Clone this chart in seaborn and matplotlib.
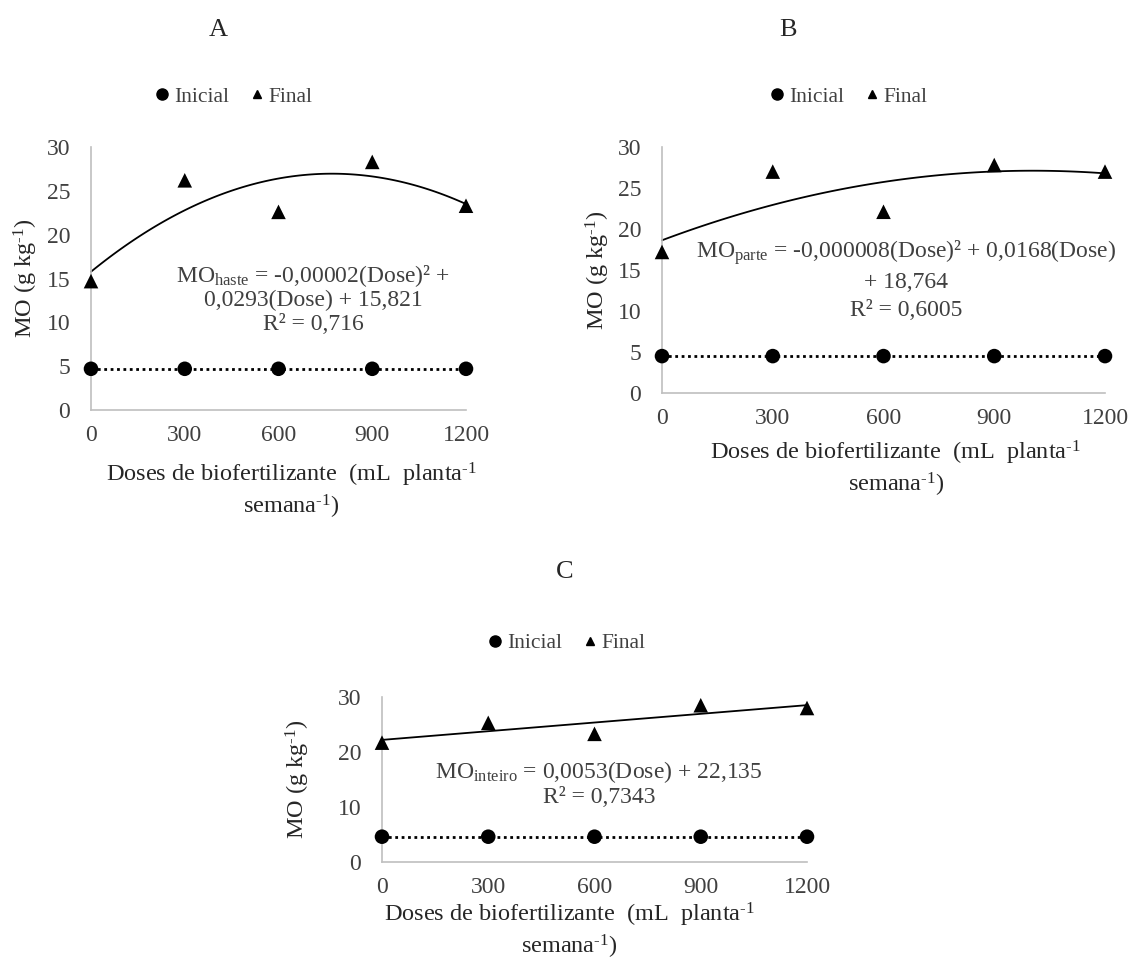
import numpy as np
import matplotlib
matplotlib.use('Agg')
import matplotlib.pyplot as plt
import seaborn as sns
import pandas as pd
from matplotlib.lines import Line2D

# doses of biofertilizer (mL planta-1 semana-1)
doses = [0, 300, 600, 900, 1200]

# MO (g kg-1)
inicial_a = [4.7, 4.7, 4.7, 4.7, 4.7]
final_a = [14.7, 26.2, 22.6, 28.3, 23.3]
inicial_b = [4.5, 4.5, 4.5, 4.5, 4.5]
final_b = [17.2, 27.0, 22.1, 27.8, 27.0]
inicial_c = [4.6, 4.6, 4.6, 4.6, 4.6]
final_c = [21.7, 25.3, 23.3, 28.5, 28.0]

eq_a = ['MO$_{\\mathrm{haste}}$ = -0,00002(Dose)² +', '0,0293(Dose) + 15,821', 'R² = 0,716']
eq_b = ['MO$_{\\mathrm{parte}}$ = -0,000008(Dose)² + 0,0168(Dose)', '+ 18,764', 'R² = 0,6005']
eq_c = ['MO$_{\\mathrm{inteiro}}$ = 0,0053(Dose) + 22,135', 'R² = 0,7343']

sns.set_style('white')
plt.rcParams['font.family'] = ['Liberation Serif', 'DejaVu Serif']
plt.rcParams['mathtext.fontset'] = 'custom'
plt.rcParams['mathtext.rm'] = 'Liberation Serif'
plt.rcParams['mathtext.it'] = 'Liberation Serif:italic'

W, H = 1130, 972
fig = plt.figure(figsize=(W / 100, H / 100), dpi=100)


def px_axes(left, top, right, bottom):
    return fig.add_axes([left / W, 1 - bottom / H, (right - left) / W, (bottom - top) / H])


def draw_panel(ax, inicial, final, order, ystep, eq_lines, eq_xy, eq_gap, ylab_x, xlab_xy):
    df = pd.DataFrame({'dose': doses * 2, 'mo': inicial + final,
                       'serie': ['Inicial'] * 5 + ['Final'] * 5})
    ini = df[df['serie'] == 'Inicial']
    fin = df[df['serie'] == 'Final']
    sns.lineplot(data=ini, x='dose', y='mo', ax=ax, color='black', lw=2,
                 linestyle=(0, (1, 1.3)), clip_on=False)
    sns.regplot(data=fin, x='dose', y='mo', order=order, ci=None, scatter=False, ax=ax,
                line_kws={'color': 'black', 'lw': 1.3, 'clip_on': False})
    sns.scatterplot(data=df, x='dose', y='mo', style='serie', markers={'Inicial': 'o', 'Final': '^'},
                    ax=ax, color='black', s=110, edgecolor='none', legend=False, clip_on=False, zorder=5)
    ax.set_xlim(0, 1200)
    ax.set_ylim(0, 30)
    ax.set_xticks(doses)
    ax.set_yticks(np.arange(0, 31, ystep))
    for s in ['top', 'right']:
        ax.spines[s].set_visible(False)
    for s in ['left', 'bottom']:
        ax.spines[s].set_color('#bfbfbf')
        ax.spines[s].set_linewidth(1.2)
    ax.tick_params(length=0, labelsize=17, colors='#404040')
    ax.tick_params(axis='y', pad=15)
    ax.tick_params(axis='x', pad=11)
    ax.set_ylabel('MO (g kg$^{\\text{-}1}$)', fontsize=17.5, color='#262626')
    ax.yaxis.set_label_coords(ylab_x, 0.5)
    ax.set_xlabel('Doses de biofertilizante  (mL  planta$^{\\text{-}1}$\nsemana$^{\\text{-}1}$)',
                  fontsize=17.5, color='#262626', linespacing=1.2)
    ax.xaxis.set_label_coords(*xlab_xy)
    for i, line in enumerate(eq_lines):
        fig.text(eq_xy[0] / W, 1 - (eq_xy[1] + i * eq_gap) / H, line, ha='center', va='center',
                 fontsize=17, color='#404040')


ax_a = px_axes(91, 147, 466, 410)
draw_panel(ax_a, inicial_a, final_a, 2, 5, eq_a, (313, 276), 24, -0.136, (0.535, -0.194))
ax_b = px_axes(662, 147, 1105, 393)
draw_panel(ax_b, inicial_b, final_b, 2, 5, eq_b, (906, 253), 29, -0.113, (0.528, -0.187))
ax_c = px_axes(382, 697, 807, 862)
draw_panel(ax_c, inicial_c, final_c, 1, 10, eq_c, (599, 772), 25, -0.165, (0.44, -0.235))

handles = [Line2D([], [], marker='o', color='black', ls='none', ms=8),
           Line2D([], [], marker='^', color='black', ls='none', ms=6)]
for (cx, cy) in [(233, 97), (848, 97), (566, 643)]:
    fig.legend(handles, ['Inicial', 'Final'], loc='center', bbox_to_anchor=(cx / W, 1 - cy / H),
               ncol=2, frameon=False, fontsize=15.5, handlelength=0.8, handletextpad=0.15,
               columnspacing=0.9, labelcolor='#404040')

for lab, (cx, cy) in zip(['A', 'B', 'C'], [(218, 30), (788, 30), (565, 572)]):
    fig.text(cx / W, 1 - cy / H, lab, ha='center', va='center', fontsize=19)

fig.savefig('out.png', dpi=100)
